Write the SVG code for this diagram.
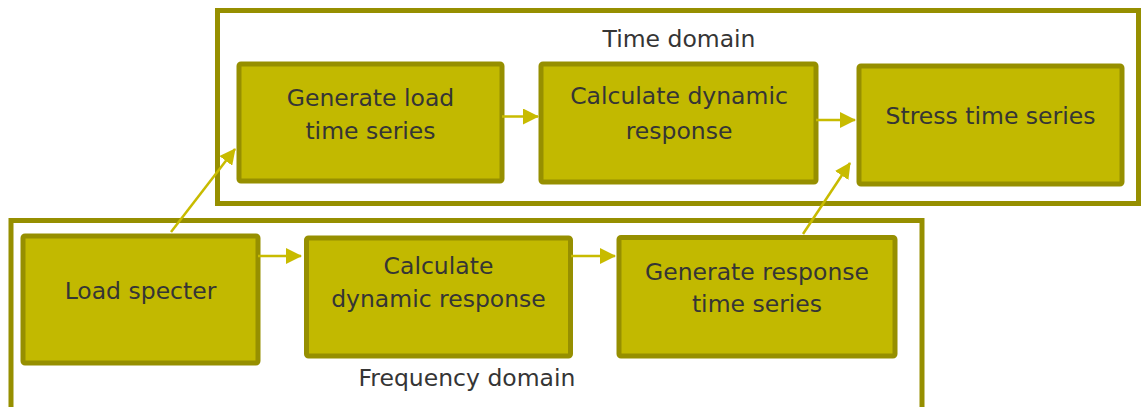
<svg xmlns="http://www.w3.org/2000/svg" width="1141" height="407" viewBox="0 0 1141 407">
<style>
.container{fill:none;stroke:#968f00;stroke-width:5}
.box{fill:#c2b900;stroke:#968f00;stroke-width:5}
.lbl{font-family:"DejaVu Sans",Verdana,sans-serif;font-size:23.5px;fill:#353535;text-anchor:middle}
.conn{stroke:#c8bb00;stroke-width:2.5;fill:none;marker-end:url(#arr)}
</style>
<defs>
<marker id="arr" viewBox="0 0 16 16" refX="15" refY="8" markerWidth="16" markerHeight="16" markerUnits="userSpaceOnUse" orient="auto">
<path d="M0,0 L16,8 L0,16 Z" fill="#c8bb00"/>
</marker>
</defs>
<g id="time-domain">
<rect class="container" x="217.5" y="10.5" width="921" height="193"/>
<text class="lbl" x="679" y="47">Time domain</text>
</g>
<g id="frequency-domain">
<rect class="container" x="11" y="220.5" width="911" height="200"/>
<text class="lbl" x="467" y="385.5">Frequency domain</text>
</g>
<g id="generate-load">
<rect class="box" x="239" y="64" width="263" height="117" rx="2"/>
<text class="lbl" x="370.5" y="106">Generate load</text>
<text class="lbl" x="370.5" y="138.5">time series</text>
</g>
<g id="calc-dyn-time">
<rect class="box" x="541" y="64" width="275" height="118" rx="2"/>
<text class="lbl" x="679" y="104">Calculate dynamic</text>
<text class="lbl" x="679" y="138.5">response</text>
</g>
<g id="stress">
<rect class="box" x="859" y="66" width="263" height="118" rx="2"/>
<text class="lbl" x="990.5" y="123.5">Stress time series</text>
</g>
<g id="load-specter">
<rect class="box" x="23" y="236" width="235" height="127" rx="2"/>
<text class="lbl" x="140.5" y="299">Load specter</text>
</g>
<g id="calc-dyn-freq">
<rect class="box" x="306.5" y="238" width="264" height="118" rx="2"/>
<text class="lbl" x="438.5" y="274">Calculate</text>
<text class="lbl" x="438.5" y="307">dynamic response</text>
</g>
<g id="generate-response">
<rect class="box" x="619" y="237.5" width="276" height="118.5" rx="2"/>
<text class="lbl" x="757" y="280">Generate response</text>
<text class="lbl" x="757" y="312">time series</text>
</g>
<g id="connectors">
<line class="conn" x1="502" y1="116.5" x2="538" y2="116.5"/>
<line class="conn" x1="816" y1="120" x2="855" y2="120"/>
<line class="conn" x1="258" y1="256" x2="301" y2="256"/>
<line class="conn" x1="571" y1="256" x2="615" y2="256"/>
<line class="conn" x1="171" y1="232" x2="235" y2="149"/>
<line class="conn" x1="803" y1="234" x2="850" y2="163"/>
</g>
</svg>
